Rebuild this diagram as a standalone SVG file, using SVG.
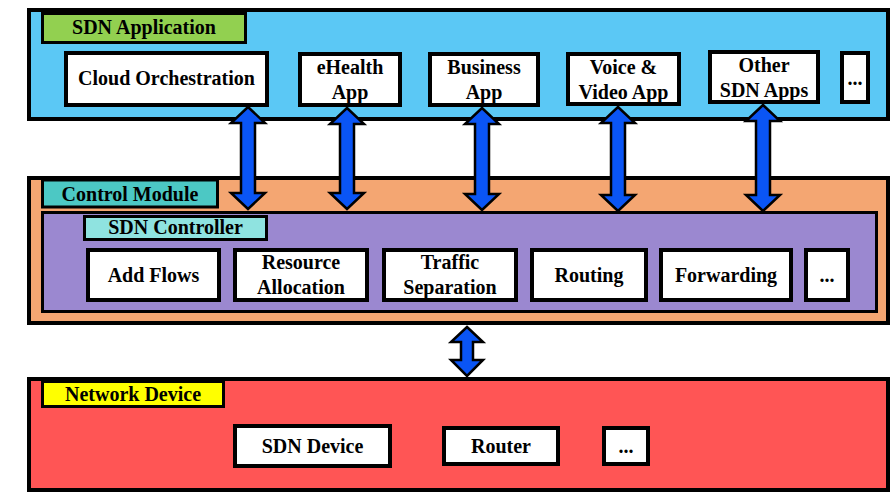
<svg xmlns="http://www.w3.org/2000/svg" width="894" height="502" viewBox="0 0 894 502" font-family="'Liberation Serif', 'Times New Roman', serif">
<style>
.panel{stroke:#000;stroke-width:4}
.lbl{stroke:#000;stroke-width:3}
.box{fill:#fff;stroke:#000;stroke-width:4}
text{font-family:'Liberation Serif','Times New Roman',serif;font-weight:bold;font-size:20px;fill:#000;text-anchor:middle}
.arr{fill:#0A55F5;stroke:#000;stroke-width:2.5;stroke-linejoin:miter}
</style>
<rect width="894" height="502" fill="#fff"/>
<g id="sdn-application">
<rect class="panel" x="29" y="10" width="859" height="109" fill="#5BC8F5"/>
<rect class="lbl" x="42.5" y="13.5" width="203" height="29" fill="#92D050"/>
<text x="144" y="34">SDN Application</text>
</g>
<g id="cloud-orchestration"><rect class="box" x="66" y="53" width="201" height="52"/><text x="166.5" y="85">Cloud Orchestration</text></g>
<g id="ehealth-app"><rect class="box" x="300" y="54" width="100" height="51"/><text x="350" y="74">eHealth</text><text x="350" y="99">App</text></g>
<g id="business-app"><rect class="box" x="430" y="54" width="108" height="51"/><text x="484" y="74">Business</text><text x="484" y="99">App</text></g>
<g id="voice-video-app"><rect class="box" x="568" y="54" width="111" height="50"/><text x="623.5" y="74">Voice &amp;</text><text x="623.5" y="99">Video App</text></g>
<g id="other-sdn-apps"><rect class="box" x="710" y="52" width="108" height="50"/><text x="764" y="72">Other</text><text x="764" y="97">SDN Apps</text></g>
<g id="app-more"><rect class="box" x="842" y="53" width="26" height="49"/><text x="855" y="85">...</text></g>

<g id="control-module">
<rect class="panel" x="29" y="178" width="859" height="145" fill="#F4A672"/>
<rect class="lbl" x="42.5" y="180" width="175" height="27" fill="#4CC8C4"/>
<text x="130" y="201">Control Module</text>
</g>
<g id="sdn-controller">
<rect class="lbl" x="42.5" y="212.5" width="834" height="99" fill="#9B88D0"/>
<rect class="lbl" x="84.5" y="216.5" width="182" height="23" fill="#8FE3E0"/>
<text x="175.5" y="234">SDN Controller</text>
</g>
<g id="add-flows"><rect class="box" x="88" y="250" width="131" height="50"/><text x="153.5" y="282">Add Flows</text></g>
<g id="resource-allocation"><rect class="box" x="235" y="250" width="132" height="50"/><text x="301" y="269">Resource</text><text x="301" y="294">Allocation</text></g>
<g id="traffic-separation"><rect class="box" x="384" y="250" width="132" height="50"/><text x="450" y="269">Traffic</text><text x="450" y="294">Separation</text></g>
<g id="routing"><rect class="box" x="532" y="250" width="114" height="50"/><text x="589" y="282">Routing</text></g>
<g id="forwarding"><rect class="box" x="661" y="250" width="130" height="50"/><text x="726" y="282">Forwarding</text></g>
<g id="controller-more"><rect class="box" x="806" y="250" width="42" height="50"/><text x="827" y="282">...</text></g>

<g id="network-device">
<rect class="panel" x="29" y="379" width="859" height="111" fill="#FF5555"/>
<rect class="lbl" x="42.5" y="381.5" width="181" height="25" fill="#FFFF00"/>
<text x="133" y="401">Network Device</text>
</g>
<g id="sdn-device"><rect class="box" x="235" y="426" width="155" height="40"/><text x="312.5" y="453">SDN Device</text></g>
<g id="router"><rect class="box" x="444" y="428" width="114" height="36"/><text x="501" y="453">Router</text></g>
<g id="device-more"><rect class="box" x="604" y="428" width="44" height="36"/><text x="626" y="453">...</text></g>

<g id="connectors">
<path class="arr" d="M248 107 L265 123 L255 123 L255 193 L265 193 L248 209 L231 193 L241 193 L241 123 L231 123 Z"/>
<path class="arr" d="M347 108 L364 124 L354 124 L354 193 L364 193 L347 209 L330 193 L340 193 L340 124 L330 124 Z"/>
<path class="arr" d="M482 108 L499 124 L489 124 L489 194 L499 194 L482 210 L465 194 L475 194 L475 124 L465 124 Z"/>
<path class="arr" d="M618 107 L635 123 L625 123 L625 195 L635 195 L618 211 L601 195 L611 195 L611 123 L601 123 Z"/>
<path class="arr" d="M763 105 L780 121 L770 121 L770 195 L780 195 L763 211 L746 195 L756 195 L756 121 L746 121 Z"/>
<path class="arr" d="M467 327 L483 342 L473 342 L473 360 L483 360 L467 376 L451 360 L461 360 L461 342 L451 342 Z"/>
</g>
</svg>
